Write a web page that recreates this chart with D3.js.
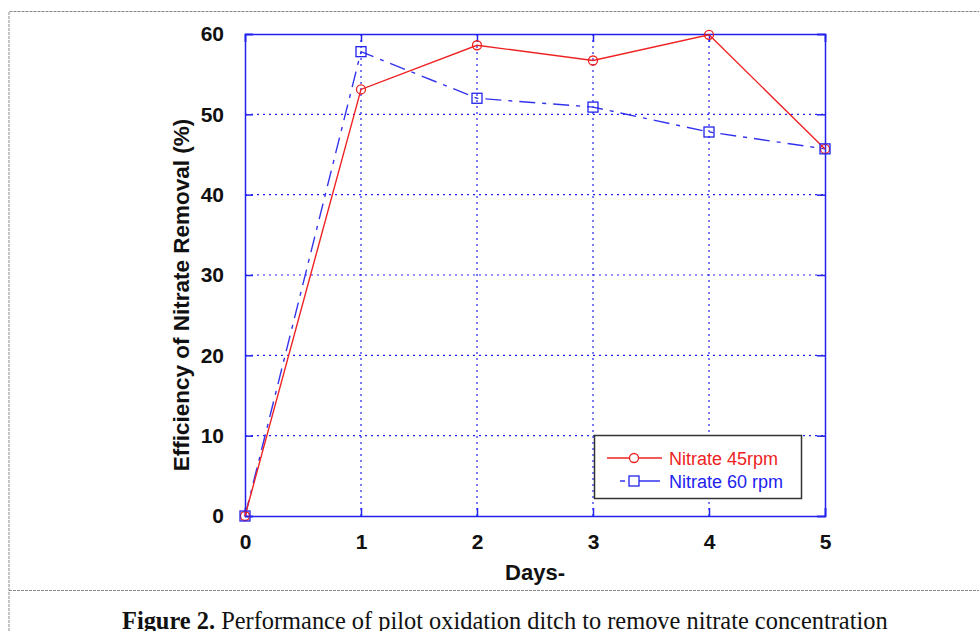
<!DOCTYPE html>
<html>
<head>
<meta charset="utf-8">
<script src="https://cdn.jsdelivr.net/npm/d3@7"></script>
<style>
body { margin: 0; background: #fff; }
</style>
</head>
<body>
<div id="chart"></div>
<script>
var days = [0, 1, 2, 3, 4, 5];
var nitrate45 = [0, 53.1, 58.6, 56.7, 59.9, 45.7];
var nitrate60 = [0, 57.8, 52.0, 50.9, 47.8, 45.7];
var yTicks = [0, 10, 20, 30, 40, 50, 60];
var seriesNames = ["Nitrate 45rpm", "Nitrate 60 rpm"];

var width = 979, height = 631;
var plotLeft = 245, plotRight = 825, plotTop = 34, plotBottom = 516;

var svg = d3.select("#chart").append("svg")
	.attr("width", width)
	.attr("height", height);

// outer dotted frame
svg.append("path")
	.attr("d", "M9,631 L9,11.5 L979,11.5")
	.attr("fill", "none")
	.attr("stroke", "#888")
	.attr("stroke-width", 1)
	.attr("stroke-dasharray", "3,1");
svg.append("line")
	.attr("x1", 9).attr("x2", 979)
	.attr("y1", 590.5).attr("y2", 590.5)
	.attr("stroke", "#888")
	.attr("stroke-dasharray", "3,1");

var x = d3.scaleLinear().domain([0, 5]).range([plotLeft, plotRight]);
var y = d3.scaleLinear().domain([0, 60]).range([plotBottom, plotTop]);

// grid
svg.selectAll(".gx").data(days.slice(1, -1)).enter().append("line")
	.attr("x1", d => x(d)).attr("x2", d => x(d))
	.attr("y1", plotTop).attr("y2", plotBottom)
	.attr("stroke", "#2222ee").attr("stroke-width", 1.2)
	.attr("stroke-dasharray", "2,4");
svg.selectAll(".gy").data(yTicks.slice(1, -1)).enter().append("line")
	.attr("x1", plotLeft).attr("x2", plotRight)
	.attr("y1", d => y(d)).attr("y2", d => y(d))
	.attr("stroke", "#2222ee").attr("stroke-width", 1.2)
	.attr("stroke-dasharray", "2,4");

// axes
var xAxis = d3.axisBottom(x).tickValues(days).tickSize(-8).tickPadding(16).tickFormat(d3.format("d"));
var yAxis = d3.axisLeft(y).tickValues(yTicks).tickSize(-8).tickPadding(21);

var gx = svg.append("g").attr("transform", "translate(0," + plotBottom + ")").call(xAxis);
var gy = svg.append("g").attr("transform", "translate(" + plotLeft + ",0)").call(yAxis);
var gx2 = svg.append("g").attr("transform", "translate(0," + plotTop + ")")
	.call(d3.axisTop(x).tickValues(days).tickSize(-8).tickFormat(""));
var gy2 = svg.append("g").attr("transform", "translate(" + plotRight + ",0)")
	.call(d3.axisRight(y).tickValues(yTicks).tickSize(-8).tickFormat(""));

[gx, gy, gx2, gy2].forEach(function(g) {
	g.select(".domain").attr("stroke", "#2222ee").attr("stroke-width", 1.5);
	g.selectAll(".tick line").attr("stroke", "#2222ee").attr("stroke-width", 1.5);
	g.selectAll(".tick text")
		.attr("fill", "#111")
		.style("font-family", "Liberation Sans, Arial, sans-serif")
		.style("font-weight", "bold")
		.style("font-size", "21px");
});
gx.selectAll(".tick text").attr("dy", "0.8em");

// labels
svg.append("text")
	.attr("x", 535).attr("y", 580)
	.attr("text-anchor", "middle")
	.style("font-family", "Liberation Sans, Arial, sans-serif")
	.style("font-weight", "bold").style("font-size", "22px")
	.attr("fill", "#111")
	.text("Days-");
svg.append("text")
	.attr("transform", "translate(189,295) rotate(-90)")
	.attr("text-anchor", "middle")
	.style("font-family", "Liberation Sans, Arial, sans-serif")
	.style("font-weight", "bold").style("font-size", "22.5px")
	.attr("fill", "#111")
	.text("Efficiency of Nitrate Removal (%)");

// series
var line = d3.line().x((d, i) => x(days[i])).y(d => y(d));

svg.append("path").datum(nitrate60)
	.attr("d", line)
	.attr("fill", "none")
	.attr("stroke", "#3333ee").attr("stroke-width", 1.4)
	.attr("stroke-dasharray", "16,7,4,7");
svg.append("path").datum(nitrate45)
	.attr("d", line)
	.attr("fill", "none")
	.attr("stroke", "#ee2222").attr("stroke-width", 1.4);

svg.selectAll(".m45").data(nitrate45).enter().append("circle")
	.attr("cx", (d, i) => x(days[i])).attr("cy", d => y(d))
	.attr("r", 4.5)
	.attr("fill", "none").attr("stroke", "#ee2222").attr("stroke-width", 1.3);
svg.selectAll(".m60").data(nitrate60).enter().append("rect")
	.attr("x", (d, i) => x(days[i]) - 5).attr("y", d => y(d) - 5)
	.attr("width", 10).attr("height", 10)
	.attr("fill", "none").attr("stroke", "#2222ee").attr("stroke-width", 1.3);

// legend
var lg = svg.append("g");
lg.append("rect")
	.attr("x", 594.5).attr("y", 435.5)
	.attr("width", 207).attr("height", 63)
	.attr("fill", "#fff").attr("stroke", "#333").attr("stroke-width", 1.5);
lg.append("line")
	.attr("x1", 607).attr("x2", 662).attr("y1", 458).attr("y2", 458)
	.attr("stroke", "#ee2222").attr("stroke-width", 1.4);
lg.append("circle")
	.attr("cx", 634).attr("cy", 458).attr("r", 4.5)
	.attr("fill", "#fff").attr("stroke", "#ee2222").attr("stroke-width", 1.3);
lg.append("line")
	.attr("x1", 620).attr("x2", 660).attr("y1", 481).attr("y2", 481)
	.attr("stroke", "#3333ee").attr("stroke-width", 1.4)
	.attr("stroke-dasharray", "5,4,40");
lg.append("rect")
	.attr("x", 629).attr("y", 476).attr("width", 10).attr("height", 10)
	.attr("fill", "#fff").attr("stroke", "#2222ee").attr("stroke-width", 1.3);
lg.selectAll(".lt").data(seriesNames).enter().append("text")
	.attr("x", 669).attr("y", (d, i) => 465 + i * 23)
	.attr("fill", (d, i) => i === 0 ? "#ee2222" : "#2222ee")
	.style("font-family", "Liberation Sans, Arial, sans-serif")
	.style("font-size", "18px")
	.text(d => d);

// caption
var cap = svg.append("text")
	.attr("x", 122).attr("y", 629)
	.style("font-family", "Liberation Serif, Times New Roman, serif")
	.style("font-size", "24.4px")
	.attr("fill", "#111");
cap.append("tspan").style("font-weight", "bold").text("Figure 2.");
cap.append("tspan").text(" Performance of pilot oxidation ditch to remove nitrate concentration");
</script>
</body>
</html>
